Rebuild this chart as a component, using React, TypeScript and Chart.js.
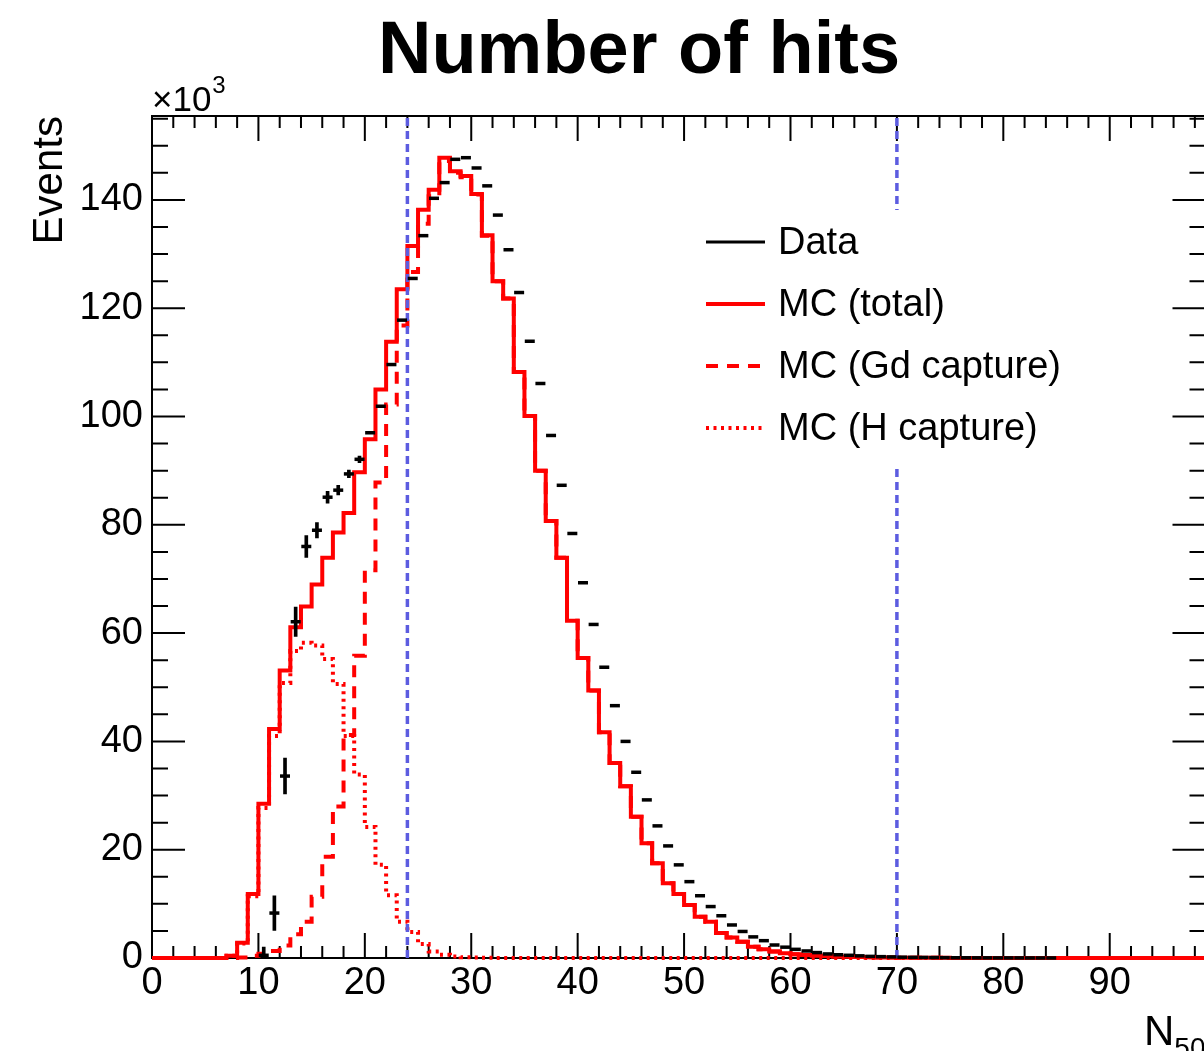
import React, { useEffect, useRef } from "react";
import { Chart, registerables } from "chart.js";

Chart.register(...registerables);

// ---------------- data ----------------
const X_MIN = 0;
const X_MAX = 99;
const Y_MAX = 155.5; // in units of 10^3

const xTickValues = [0, 10, 20, 30, 40, 50, 60, 70, 80, 90];
const yTickValues = [0, 20, 40, 60, 80, 100, 120, 140];

// MC total, bins 0..98 (width 1), x10^3
const mcTotal = [
  0, 0, 0, 0, 0, 0, 0, 0.4, 2.8, 11.8,
  28.5, 42.3, 53.1, 61.1, 64.9, 69.0, 73.9, 78.6, 82.2, 89.7,
  95.8, 105.0, 113.8, 123.5, 131.5, 138.2, 141.9, 147.8, 145.3, 144.4,
  141.1, 133.5, 125.0, 121.8, 108.2, 100.1, 90.0, 80.7, 73.9, 62.3,
  55.4, 49.4, 41.7, 36.0, 31.7, 26.1, 21.2, 17.5, 13.8, 11.8,
  9.8, 7.6, 6.7, 4.6, 3.8, 3.0, 2.1, 1.6, 1.2, 0.9,
  0.7, 0.55, 0.45, 0.35, 0.28, 0.22, 0.17, 0.13, 0.1, 0.08,
  0.06, 0.05, 0.04, 0.03, 0.03, 0.02, 0.02, 0.02, 0.01, 0.01,
  0.01, 0.01, 0.01, 0.01, 0.01, 0, 0, 0, 0, 0,
  0, 0, 0, 0, 0, 0, 0, 0, 0,
];

// MC Gd capture
const mcGd = [
  0, 0, 0, 0, 0, 0, 0, 0, 0.1, 0.4,
  0.8, 1.3, 2.3, 4.4, 6.7, 11.3, 18.7, 28.0, 41.2, 55.8,
  71.6, 87.8, 102.2, 116.8, 126.7, 135.6, 140.7, 147.2, 145.0, 144.2,
  141.0, 133.4, 125.0, 121.8, 108.2, 100.1, 90.0, 80.7, 73.9, 62.3,
  55.4, 49.4, 41.7, 36.0, 31.7, 26.1, 21.2, 17.5, 13.8, 11.8,
  9.8, 7.6, 6.7, 4.6, 3.8, 3.0, 2.1, 1.6, 1.2, 0.9,
  0.7, 0.55, 0.45, 0.35, 0.28, 0.22, 0.17, 0.13, 0.1, 0.08,
  0.06, 0.05, 0.04, 0.03, 0.03, 0.02, 0.02, 0.02, 0.01, 0.01,
  0.01, 0.01, 0.01, 0.01, 0.01, 0, 0, 0, 0, 0,
  0, 0, 0, 0, 0, 0, 0, 0, 0,
];

// MC H capture
const mcH = [
  0, 0, 0, 0, 0, 0, 0, 0.4, 2.7, 11.4,
  27.7, 41.0, 50.8, 56.7, 58.2, 57.7, 55.2, 50.6, 41.0, 33.9,
  24.2, 17.2, 11.6, 6.7, 4.8, 2.6, 1.2, 0.6, 0.3, 0.15,
  0.1, 0.05, 0, 0, 0, 0, 0, 0, 0, 0,
  0, 0, 0, 0, 0, 0, 0, 0, 0, 0,
  0, 0, 0, 0, 0, 0, 0, 0, 0, 0,
  0, 0, 0, 0, 0, 0, 0, 0, 0, 0,
  0, 0, 0, 0, 0, 0, 0, 0, 0, 0,
  0, 0, 0, 0, 0, 0, 0, 0, 0, 0,
  0, 0, 0, 0, 0, 0, 0, 0, 0,
];

// Data, starting at bin 10
const dataFirstBin = 10;
const dataValues = [
  0.5, 8.3, 33.6, 62.1, 76.0, 79.0, 85.1, 86.4, 89.4, 92.1,
  97.0, 101.9, 109.6, 117.8, 125.5, 133.4, 140.3, 143.2, 147.5, 147.8,
  145.9, 142.6, 137.2, 130.8, 122.9, 113.9, 106.1, 96.5, 87.3, 78.4,
  69.3, 61.6, 53.7, 46.6, 40.0, 34.3, 29.2, 24.4, 20.7, 17.2,
  14.1, 11.5, 9.5, 7.8, 6.1, 4.9, 3.9, 3.2, 2.4, 2.0,
  1.6, 1.3, 1.0, 0.75, 0.6, 0.5, 0.4, 0.3, 0.25, 0.2,
  0.15, 0.12, 0.1, 0.08, 0.06, 0.05, 0.04, 0.03, 0.03, 0.02,
  0.02, 0.02, 0.01, 0.01, 0.01,
];
// visible vertical error bars (bins 10..19)
const dataErrors = [1.5, 3.2, 3.3, 2.7, 2.0, 1.4, 1.1, 0.9, 0.7, 0.6];

const cutValues = [24, 70];

const legendLabels = ["Data", "MC (total)", "MC (Gd capture)", "MC (H capture)"];

// ---------------- styles ----------------
const FONT = '"Liberation Sans", Arial, Helvetica, sans-serif';
const RED = "#ff0000";
const BLUE = "#5c5ce0";
const CANVAS_W = 1214;
const CANVAS_H = 1051;
const MC_WIDTH = 4;

const histPoints = (vals: number[]) => {
  const pts = vals.map((v, i) => ({ x: X_MIN + i, y: v }));
  pts.push({ x: X_MIN + vals.length, y: vals[vals.length - 1] });
  return pts;
};

const legendStyles = [
  { color: "#000000", dash: [] as number[], width: 3 },
  { color: RED, dash: [] as number[], width: MC_WIDTH },
  { color: RED, dash: [12, 9], width: MC_WIDTH },
  { color: RED, dash: [3, 4.5], width: MC_WIDTH },
];

const framePlugin = {
  id: "rootFrame",
  beforeDatasetsDraw(chart: any) {
    const { ctx, chartArea: a, scales } = chart;
    const x = scales.x;
    const y = scales.y;
    ctx.save();
    ctx.strokeStyle = "#000";
    ctx.lineWidth = 2;
    ctx.setLineDash([]);
    ctx.strokeRect(a.left, a.top, a.right - a.left, a.bottom - a.top);
    ctx.beginPath();
    for (let v = X_MIN; v <= X_MAX + 1e-9; v += 2) {
      const px = x.getPixelForValue(v);
      const len = Math.abs(v % 10) < 1e-9 ? 25 : 12;
      ctx.moveTo(px, a.bottom);
      ctx.lineTo(px, a.bottom - len);
      ctx.moveTo(px, a.top);
      ctx.lineTo(px, a.top + len);
    }
    for (let v = 0; v <= Y_MAX + 1e-9; v += 5) {
      const py = y.getPixelForValue(v);
      const len = Math.abs(v % 20) < 1e-9 ? 33 : 16;
      ctx.moveTo(a.left, py);
      ctx.lineTo(a.left + len, py);
      ctx.moveTo(a.right, py);
      ctx.lineTo(a.right - len, py);
    }
    ctx.stroke();
    ctx.restore();
  },
};

const legendPlugin = {
  id: "rootLegend",
  afterDatasetsDraw(chart: any) {
    const { ctx } = chart;
    ctx.save();
    ctx.fillStyle = "#ffffff";
    ctx.fillRect(690, 210, 400, 255);
    legendLabels.forEach((label, i) => {
      const st = legendStyles[i];
      const ly = 242 + i * 62;
      ctx.beginPath();
      ctx.strokeStyle = st.color;
      ctx.lineWidth = st.width;
      ctx.setLineDash(st.dash);
      ctx.moveTo(706, ly);
      ctx.lineTo(765, ly);
      ctx.stroke();
      ctx.setLineDash([]);
      ctx.fillStyle = "#000";
      ctx.font = `38px ${FONT}`;
      ctx.textAlign = "left";
      ctx.textBaseline = "alphabetic";
      ctx.fillText(label, 778, ly + 11.5);
    });
    ctx.restore();
  },
};

const titlesPlugin = {
  id: "rootTitles",
  afterDraw(chart: any) {
    const { ctx, chartArea: a } = chart;
    ctx.save();
    ctx.fillStyle = "#000";
    ctx.textBaseline = "alphabetic";
    // main title
    ctx.font = `bold 74px ${FONT}`;
    ctx.textAlign = "center";
    ctx.fillText("Number of hits", 639, 73);
    // y title
    ctx.save();
    ctx.translate(62, a.top);
    ctx.rotate(-Math.PI / 2);
    ctx.font = `42px ${FONT}`;
    ctx.textAlign = "right";
    ctx.fillText("Events", 0, 0);
    ctx.restore();
    // x10^3
    ctx.textAlign = "left";
    ctx.font = `35px ${FONT}`;
    const base = "\u00d710";
    ctx.fillText(base, a.left, 111);
    const bw = ctx.measureText(base).width;
    ctx.font = `24px ${FONT}`;
    ctx.fillText("3", a.left + bw + 1, 93);
    // x title N_50, right aligned at frame edge
    ctx.font = `28px ${FONT}`;
    const subW = ctx.measureText("50").width;
    ctx.font = `42px ${FONT}`;
    const nW = ctx.measureText("N").width;
    const start = a.right - subW - nW;
    ctx.fillText("N", start, 1045);
    ctx.font = `28px ${FONT}`;
    ctx.fillText("50", start + nW, 1057);
    ctx.restore();
  },
};

export default function App() {
  const ref = useRef<HTMLCanvasElement | null>(null);

  useEffect(() => {
    if (!ref.current) return;
    const dataPts = dataValues.map((v, i) => ({ x: dataFirstBin + i + 0.5, y: v }));
    const errBars = dataErrors.map((e, i) => ({
      x: dataFirstBin + i + 0.5,
      y: [dataValues[i] - e, dataValues[i] + e],
    }));

    const datasets: any[] = [
      {
        type: "scatter",
        label: legendLabels[0],
        data: dataPts,
        pointStyle: "line",
        pointRadius: 5,
        pointBorderWidth: 3.5,
        borderColor: "#000",
        backgroundColor: "#000",
        order: 1,
        clip: false,
      },
      {
        type: "bar",
        label: "Data errors",
        data: errBars,
        backgroundColor: "#000",
        barThickness: 3,
        order: 2,
      },
      ...cutValues.map((c) => ({
        type: "line",
        label: `cut ${c}`,
        data: [
          { x: c, y: 0 },
          { x: c, y: Y_MAX },
        ],
        borderColor: BLUE,
        borderWidth: 3.5,
        borderDash: [8, 5],
        pointRadius: 0,
        order: 3,
      })),
      {
        type: "line",
        label: legendLabels[1],
        data: histPoints(mcTotal),
        stepped: true,
        borderColor: RED,
        borderWidth: MC_WIDTH,
        pointRadius: 0,
        fill: false,
        order: 4,
        clip: false,
      },
      {
        type: "line",
        label: legendLabels[2],
        data: histPoints(mcGd),
        stepped: true,
        borderColor: RED,
        borderWidth: MC_WIDTH,
        borderDash: [12, 9],
        pointRadius: 0,
        fill: false,
        order: 5,
        clip: false,
      },
      {
        type: "line",
        label: legendLabels[3],
        data: histPoints(mcH),
        stepped: true,
        borderColor: RED,
        borderWidth: MC_WIDTH,
        borderDash: [3, 4.5],
        pointRadius: 0,
        fill: false,
        order: 6,
        clip: false,
      },
    ];

    const chart = new Chart(ref.current, {
      type: "line",
      data: { datasets },
      options: {
        responsive: false,
        animation: false,
        devicePixelRatio: 1,
        layout: { padding: { left: 0, top: 116, right: CANVAS_W - 1206.6, bottom: 0 } },
        plugins: {
          legend: { display: false },
          tooltip: { enabled: false },
          title: { display: false },
        },
        scales: {
          x: {
            type: "linear",
            min: X_MIN,
            max: X_MAX,
            offset: false,
            grid: { display: false, drawTicks: false },
            border: { display: false },
            afterFit: (s: any) => {
              s.height = CANVAS_H - 958;
            },
            afterBuildTicks: (s: any) => {
              s.ticks = xTickValues.map((v) => ({ value: v }));
            },
            ticks: {
              autoSkip: false,
              maxRotation: 0,
              padding: 3,
              color: "#000",
              font: { family: FONT, size: 38 },
              callback: (v: any) => String(v),
            },
          },
          y: {
            type: "linear",
            min: 0,
            max: Y_MAX,
            grid: { display: false, drawTicks: false },
            border: { display: false },
            afterFit: (s: any) => {
              s.width = 152;
            },
            afterBuildTicks: (s: any) => {
              s.ticks = yTickValues.map((v) => ({ value: v }));
            },
            ticks: {
              padding: 9,
              color: "#000",
              font: { family: FONT, size: 38 },
              callback: (v: any) => String(v),
            },
          },
        },
      },
      plugins: [framePlugin, legendPlugin, titlesPlugin],
    });
    return () => chart.destroy();
  }, []);

  return (
    <div
      style={{
        position: "fixed",
        left: 0,
        top: 0,
        width: "100vw",
        height: "100vh",
        overflow: "hidden",
        background: "#fff",
      }}
    >
      <canvas
        ref={ref}
        width={CANVAS_W}
        height={CANVAS_H}
        style={{ display: "block", width: CANVAS_W, height: CANVAS_H }}
      />
    </div>
  );
}
